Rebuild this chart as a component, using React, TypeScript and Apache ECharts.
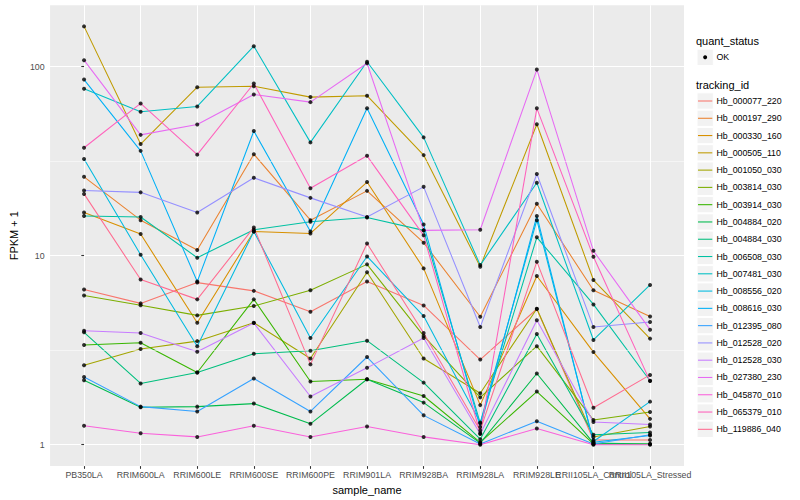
import React, { useEffect, useRef } from "react";
import * as echarts from "echarts";

const FONT = "'Liberation Sans', Arial, Helvetica, sans-serif";

const categories = [
  "PB350LA",
  "RRIM600LA",
  "RRIM600LE",
  "RRIM600SE",
  "RRIM600PE",
  "RRIM901LA",
  "RRIM928BA",
  "RRIM928LA",
  "RRIM928LE",
  "RRII105LA_Control",
  "RRII105LA_Stressed",
];

const trackingIds = [
  "Hb_000077_220",
  "Hb_000197_290",
  "Hb_000330_160",
  "Hb_000505_110",
  "Hb_001050_030",
  "Hb_003814_030",
  "Hb_003914_030",
  "Hb_004884_020",
  "Hb_004884_030",
  "Hb_006508_030",
  "Hb_007481_030",
  "Hb_008556_020",
  "Hb_008616_030",
  "Hb_012395_080",
  "Hb_012528_020",
  "Hb_012528_030",
  "Hb_027380_230",
  "Hb_045870_010",
  "Hb_065379_010",
  "Hb_119886_040",
];

const palette = [
  "#F8766D", "#EA8331", "#D89000", "#C09B00", "#A3A500",
  "#7CAE00", "#39B600", "#00BB4E", "#00BF7D", "#00C1A3",
  "#00BFC4", "#00BAE0", "#00B0F6", "#35A2FF", "#9590FF",
  "#C77CFF", "#E76BF3", "#FA62DB", "#FF62BC", "#FF6C91",
];

// FPKM + 1 values per tracking id, one value per sample (categories order)
const hb_000077_220 = [6.62, 5.59, 7.2, 6.51, 5.05, 7.29, 5.45, 2.82, 5.22, 1.06, 1.06];
const hb_000197_290 = [26.1, 15.4, 10.7, 34.4, 15.4, 22.0, 11.7, 4.75, 18.8, 6.56, 4.77];
const hb_000330_160 = [16.9, 13.0, 4.42, 13.4, 13.1, 24.5, 8.56, 1.62, 7.8, 3.09, 1.37];
const hb_000505_110 = [163, 38.9, 77.7, 78.7, 68.9, 70.1, 34.0, 8.74, 49.5, 7.43, 3.64];
const hb_001050_030 = [2.63, 3.21, 3.53, 4.42, 2.86, 8.16, 2.86, 1.87, 5.24, 1.1, 1.25];
const hb_003814_030 = [6.16, 5.47, 4.83, 5.41, 6.56, 8.99, 3.76, 1.78, 3.32, 1.35, 1.49];
const hb_003914_030 = [3.37, 3.46, 2.41, 5.87, 2.16, 2.22, 1.81, 1.03, 1.91, 1.01, 1.01];
const hb_004884_020 = [2.19, 1.58, 1.59, 1.65, 1.29, 2.22, 1.67, 1.02, 2.38, 1.02, 1.01];
const hb_004884_030 = [3.93, 2.11, 2.41, 3.03, 3.14, 3.55, 2.13, 1.07, 3.85, 1.13, 1.16];
const hb_006508_030 = [16.2, 16.0, 9.75, 13.7, 15.1, 15.9, 13.6, 1.3, 12.5, 5.52, 2.18];
const hb_007481_030 = [76.3, 57.7, 61.5, 128, 39.7, 106, 42.2, 8.91, 24.3, 3.58, 7.0];
const hb_008556_020 = [32.4, 10.1, 3.32, 13.4, 3.67, 9.9, 4.79, 1.31, 15.4, 1.04, 1.69];
const hb_008616_030 = [85.3, 35.8, 7.29, 45.6, 13.4, 60.1, 14.6, 1.24, 16.2, 1.03, 1.12];
const hb_012395_080 = [2.28, 1.59, 1.5, 2.24, 1.5, 2.91, 1.43, 1.01, 1.33, 1.01, 1.13];
const hb_012528_020 = [22.1, 21.6, 16.9, 25.8, 20.2, 16.0, 23.1, 4.19, 27.0, 4.19, 4.46];
const hb_012528_030 = [4.01, 3.9, 3.1, 4.4, 1.8, 2.55, 3.67, 1.14, 4.55, 1.32, 1.28];
const hb_027380_230 = [108, 43.5, 49.3, 71.2, 64.8, 104, 13.6, 13.7, 96.3, 10.6, 4.06];
const hb_045870_010 = [1.26, 1.15, 1.1, 1.26, 1.1, 1.25, 1.1, 1.0, 1.22, 1.0, 1.0];
const hb_065379_010 = [37.2, 63.8, 34.2, 81.3, 22.7, 33.7, 12.8, 1.15, 60.1, 9.87, 2.17];
const hb_119886_040 = [21.2, 7.47, 5.87, 14.1, 2.66, 11.6, 3.9, 1.19, 9.29, 1.57, 2.34];

const seriesValues = [
  hb_000077_220, hb_000197_290, hb_000330_160, hb_000505_110, hb_001050_030,
  hb_003814_030, hb_003914_030, hb_004884_020, hb_004884_030, hb_006508_030,
  hb_007481_030, hb_008556_020, hb_008616_030, hb_012395_080, hb_012528_020,
  hb_012528_030, hb_027380_230, hb_045870_010, hb_065379_010, hb_119886_040,
];

const yMajorTicks = [1, 10, 100];
const yMinorTicks = [3.1623, 31.623];
const yMin = 0.7709;
const yMax = 210.7;
const xMin = -0.6;
const xMax = 10.6;

function buildOption(): any {
  const catIdx = categories.map((_, i) => i);
  // a trailing blank label at the axis end absorbs ECharts' max-label overlap rule
  const labelValues = [...catIdx, xMax];

  const lineSeries = seriesValues.map((vals, k) => ({
    type: "line",
    name: trackingIds[k],
    data: vals.map((v, i) => [i, v]),
    showSymbol: false,
    symbol: "none",
    silent: true,
    z: 2,
    lineStyle: { color: palette[k], width: 1.07 },
    itemStyle: { color: palette[k] },
  }));

  const points: number[][] = [];
  seriesValues.forEach((vals) => vals.forEach((v, i) => points.push([i, v])));

  const graphic: any[] = [];
  const lx = 697;
  const key = 16.3;
  graphic.push({
    type: "text",
    x: 696,
    y: 40.5,
    style: { text: "quant_status", fill: "#000", fontSize: 11, fontFamily: FONT, verticalAlign: "middle", align: "left" },
  });
  graphic.push({
    type: "rect",
    shape: { x: lx, y: 57.3 - key / 2, width: key, height: key },
    style: { fill: "#F2F2F2", stroke: "#fff", lineWidth: 1 },
  });
  graphic.push({
    type: "circle",
    shape: { cx: lx + key / 2, cy: 57.3, r: 2 },
    style: { fill: "#000" },
  });
  graphic.push({
    type: "text",
    x: 716.5,
    y: 57.3,
    style: { text: "OK", fill: "#000", fontSize: 8.8, fontFamily: FONT, verticalAlign: "middle", align: "left" },
  });
  graphic.push({
    type: "text",
    x: 696,
    y: 84.5,
    style: { text: "tracking_id", fill: "#000", fontSize: 11, fontFamily: FONT, verticalAlign: "middle", align: "left" },
  });
  trackingIds.forEach((id, k) => {
    const cy = 101 + k * 17.28;
    graphic.push({
      type: "rect",
      shape: { x: lx, y: cy - key / 2, width: key, height: key },
      style: { fill: "#F2F2F2", stroke: "#fff", lineWidth: 1 },
    });
    graphic.push({
      type: "line",
      shape: { x1: lx + 1, y1: cy, x2: lx + key - 1, y2: cy },
      style: { stroke: palette[k], lineWidth: 1.07 },
    });
    graphic.push({
      type: "text",
      x: 716.5,
      y: cy,
      style: { text: id, fill: "#000", fontSize: 8.8, fontFamily: FONT, verticalAlign: "middle", align: "left" },
    });
  });

  return {
    animation: false,
    backgroundColor: "#FFFFFF",
    textStyle: { fontFamily: FONT },
    grid: {
      left: 40,
      top: 5.3,
      width: 644,
      height: 463.7,
      show: true,
      backgroundColor: "#EBEBEB",
      borderWidth: 0,
      containLabel: false,
    },
    xAxis: {
      type: "value",
      min: xMin,
      max: xMax,
      axisLine: { show: false },
      axisTick: { show: true, customValues: catIdx, length: 2.75, lineStyle: { color: "#333333", width: 1.07 } },
      axisLabel: {
        customValues: labelValues,
        formatter: (v: number) => {
          const i = Math.round(v);
          return Math.abs(v - i) < 1e-6 && categories[i] ? categories[i] : " ";
        },
        color: "#4D4D4D",
        fontSize: 8.8,
        fontFamily: FONT,
        margin: 4,
        showMinLabel: true,
        showMaxLabel: false,
        hideOverlap: false,
      },
      splitLine: { show: true, lineStyle: { color: "#FFFFFF", width: 1.07 } },
      name: "sample_name",
      nameLocation: "middle",
      nameGap: 15,
      nameTextStyle: { color: "#000", fontSize: 11, fontFamily: FONT },
    },
    yAxis: {
      type: "log",
      logBase: 10,
      min: yMin,
      max: yMax,
      axisLine: { show: false },
      axisTick: { show: true, customValues: yMajorTicks, length: 2.75, lineStyle: { color: "#333333", width: 1.07 } },
      axisLabel: {
        customValues: yMajorTicks,
        formatter: (v: number) => String(Math.round(v)),
        color: "#4D4D4D",
        fontSize: 8.8,
        fontFamily: FONT,
        margin: 5.5,
        showMinLabel: true,
        showMaxLabel: true,
      },
      splitLine: { show: true, lineStyle: { color: "#FFFFFF", width: 1.07 } },
      name: "FPKM + 1",
      nameLocation: "middle",
      nameGap: 21,
      nameRotate: 90,
      nameTextStyle: { color: "#000", fontSize: 11, fontFamily: FONT },
    },
    series: [
      {
        type: "line",
        name: "minor-grid",
        data: [],
        silent: true,
        z: 1,
        markLine: {
          silent: true,
          symbol: "none",
          label: { show: false },
          lineStyle: { color: "#FFFFFF", width: 0.53, type: "solid" },
          data: yMinorTicks.map((v) => ({ yAxis: v })),
        },
      },
      ...lineSeries,
      {
        type: "scatter",
        name: "OK",
        data: points,
        symbol: "circle",
        symbolSize: 4,
        silent: true,
        z: 10,
        itemStyle: { color: "#000000" },
      },
    ],
    graphic,
  };
}

export default function App() {
  const ref = useRef<HTMLDivElement>(null);
  useEffect(() => {
    if (!ref.current) return;
    const chart = echarts.init(ref.current, undefined, { renderer: "svg" });
    chart.setOption(buildOption());
    return () => chart.dispose();
  }, []);
  return <div ref={ref} style={{ width: 800, height: 500, position: "absolute", left: 0, top: 0 }} />;
}
